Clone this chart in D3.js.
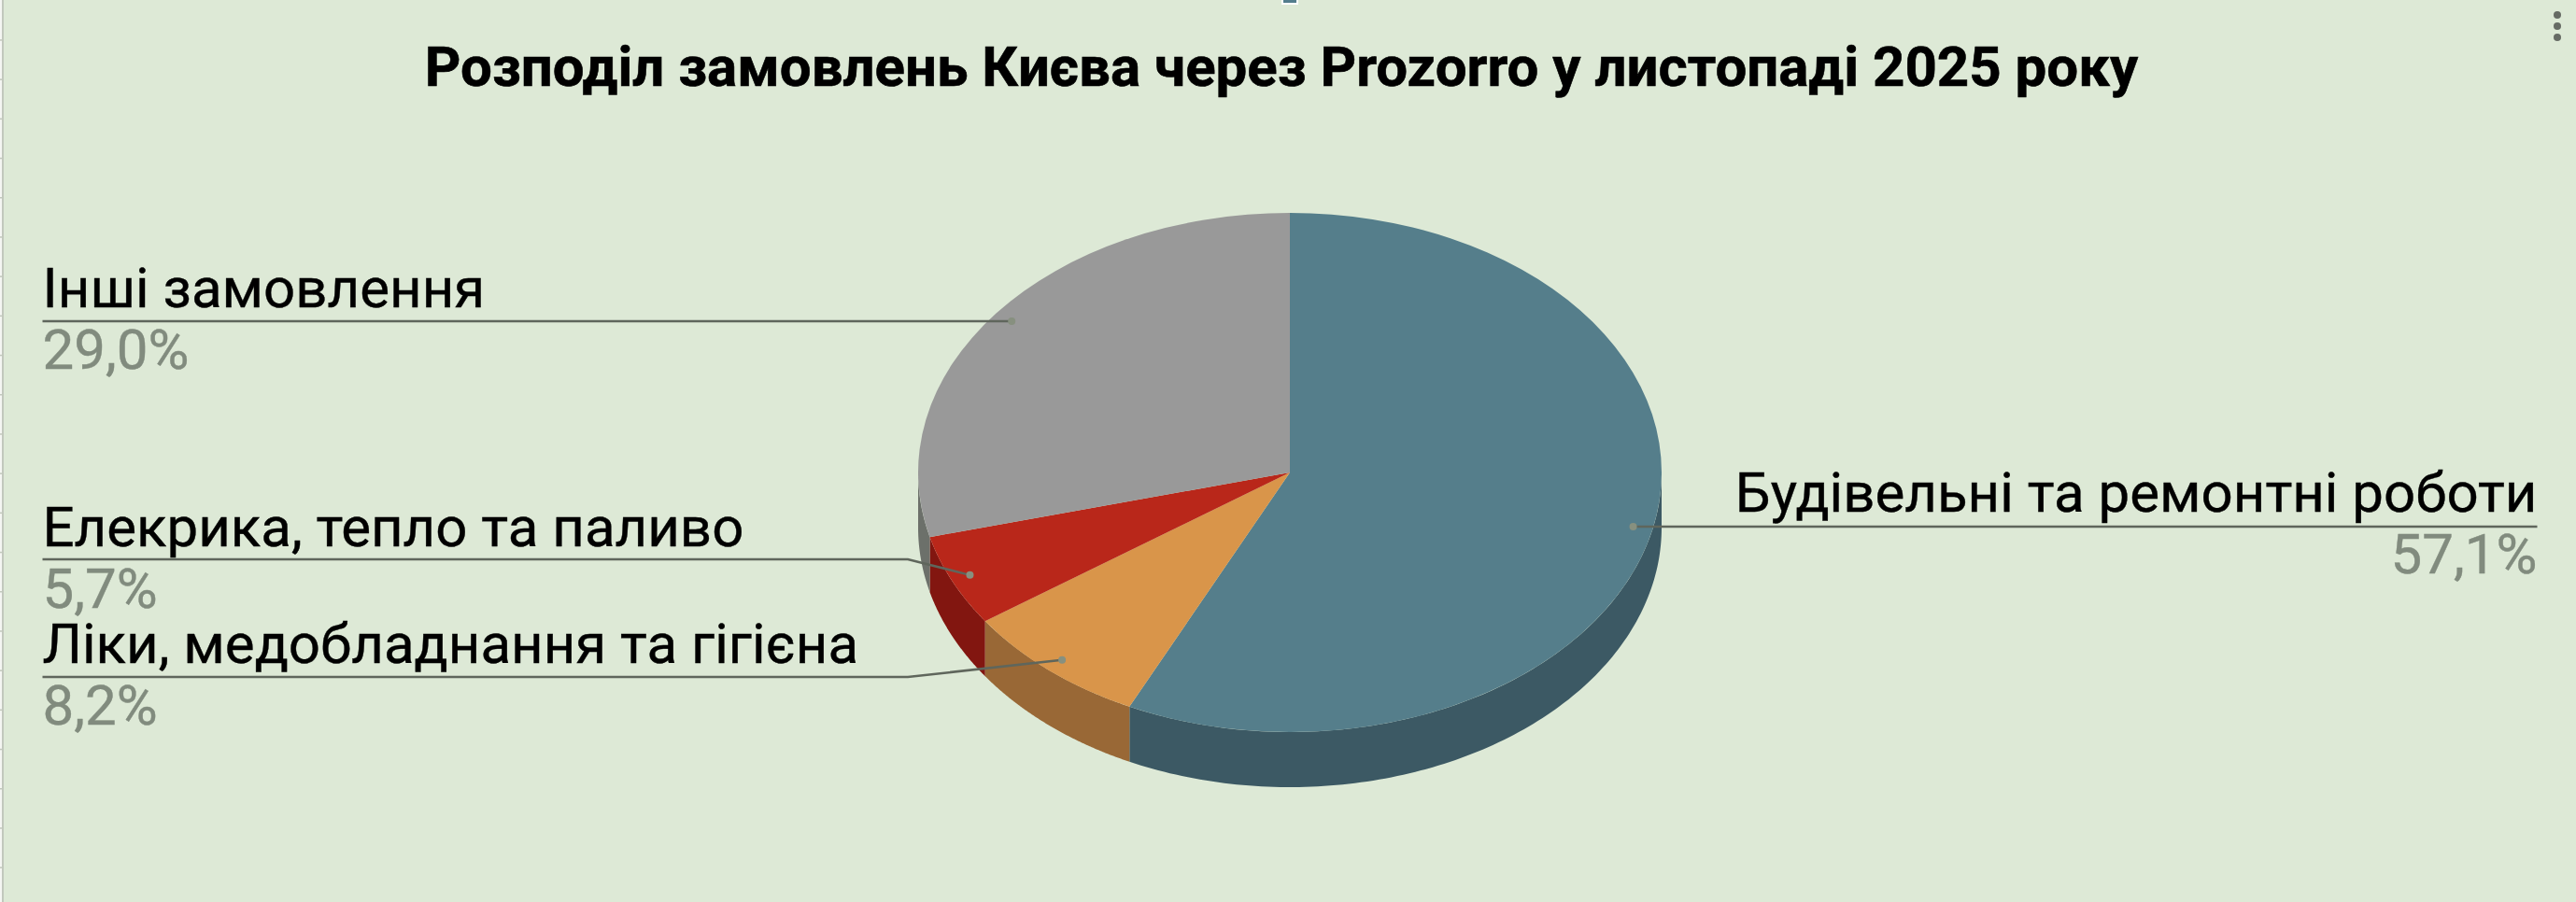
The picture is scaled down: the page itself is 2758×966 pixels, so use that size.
<!DOCTYPE html>
<html lang="uk">
<head>
<meta charset="utf-8">
<script src="https://cdn.jsdelivr.net/npm/d3@7"></script>
<style>
html,body{margin:0;padding:0;background:#dde9d6;overflow:hidden}
svg{display:block}
text{font-family:Roboto,sans-serif}
</style>
</head>
<body>
<svg id="c" width="2758" height="966"></svg>
<script>
const chartTitle = "Розподіл замовлень Києва через Prozorro у листопаді 2025 року";
const categories = ["Будівельні та ремонтні роботи","Ліки, медобладнання та гігієна","Елекрика, тепло та паливо","Інші замовлення"];
const shareValues = [57.1, 8.2, 5.7, 29.0];
const topColors = ["#557e8b","#d9954a","#b9271a","#999999"];
const sideColors = ["#3c5964","#996836","#821610","#6c706a"];

const W = 2758, H = 966, cx = 1381, cy = 506, rx = 398, ry = 278, depth = 59;
const svg = d3.select("#c");
svg.append("rect").attr("width",W).attr("height",H).attr("fill","#dde9d6");

/* sheet edge at the left, menu dots and marker at the top */
svg.append("rect").attr("x",0).attr("width",2).attr("height",H).attr("fill","#f4f6f2");
svg.append("rect").attr("x",2).attr("width",2).attr("height",H).attr("fill","#c2c8bd");
svg.selectAll("rect.tick").data(d3.range(1,23)).join("rect").attr("class","tick")
  .attr("x",0).attr("width",3).attr("height",1.5)
  .attr("y",k=>k*42.2).attr("fill","#c2c8bd");
svg.append("rect").attr("x",1372).attr("y",0).attr("width",18).attr("height",5).attr("fill","#fff");
svg.append("rect").attr("x",1374).attr("y",0).attr("width",14).attr("height",3).attr("fill","#537d8d");
svg.selectAll("circle.menu").data([16,28,40]).join("circle").attr("class","menu")
  .attr("cx",2738).attr("cy",d=>d).attr("r",4).attr("fill","#666b64");

svg.append("text").attr("x",1372).attr("y",92).attr("text-anchor","middle")
  .attr("font-size",60).attr("font-weight",700).attr("fill","#000")
  .attr("stroke","#000").attr("stroke-width",0.6).text(chartTitle);

const pie = d3.pie().sort(null).value(d=>d)(shareValues);
const arc = d3.arc().innerRadius(0).outerRadius(rx);
const px = a => cx + rx*Math.sin(a), py = a => cy - ry*Math.cos(a);

/* walls: the part of each slice rim that faces the viewer */
const wall = d3.line();
pie.forEach((s,i)=>{
  const a0 = Math.max(s.startAngle, Math.PI/2), a1 = Math.min(s.endAngle, 1.5*Math.PI);
  if (a1 <= a0) return;
  const scale = d3.scaleLinear().domain([0,120]).range([a0,a1]);
  const rim = d3.range(0,121).map(scale);
  const pts = rim.map(a=>[px(a),py(a)]).concat(rim.slice().reverse().map(a=>[px(a),py(a)+depth]));
  svg.append("path").attr("d",wall(pts)+"Z").attr("fill",sideColors[i]);
});

/* top face */
svg.append("g").attr("transform",`translate(${cx},${cy}) scale(1,${ry/rx})`)
  .selectAll("path").data(pie).join("path").attr("d",arc).attr("fill",(d,i)=>topColors[i]);

/* labels and leaders */
const anchorK = 0.947;
const labelLayout = [
  {side:"right", x:2716.5, lineY:564, nameY:548, valY:614},
  {side:"left",  x:45.5, lineY:725, nameY:710, valY:776, elbow:972},
  {side:"left",  x:45.5, lineY:599, nameY:585, valY:651, elbow:972},
  {side:"left",  x:45.5, lineY:344, nameY:329, valY:395}
];
const fmt = v => v.toFixed(1).replace(".",",")+"%";
pie.forEach((s,i)=>{
  const L = labelLayout[i], a = (s.startAngle+s.endAngle)/2;
  const dx = cx + anchorK*rx*Math.sin(a), dy = cy - anchorK*ry*Math.cos(a);
  const pts = L.elbow ? [[L.x,L.lineY],[L.elbow,L.lineY],[dx,dy]] : [[L.x,L.lineY],[dx,L.lineY]];
  svg.append("path").attr("d",d3.line()(pts)).attr("fill","none").attr("stroke","#5f665c").attr("stroke-width",2.5);
  svg.append("circle").attr("cx",dx).attr("cy",L.elbow?dy:L.lineY).attr("r",4).attr("fill","#87907f");
  const anchor = L.side==="right"?"end":"start";
  svg.append("text").attr("x",L.x).attr("y",L.nameY).attr("text-anchor",anchor)
    .attr("font-size",60).attr("fill","#000").attr("stroke","#000").attr("stroke-width",0.4).text(categories[i]);
  svg.append("text").attr("x",L.x).attr("y",L.valY).attr("text-anchor",anchor)
    .attr("font-size",60).attr("fill","#818b7e").attr("stroke","#818b7e").attr("stroke-width",0.4).text(fmt(shareValues[i]));
});
</script>
</body>
</html>
